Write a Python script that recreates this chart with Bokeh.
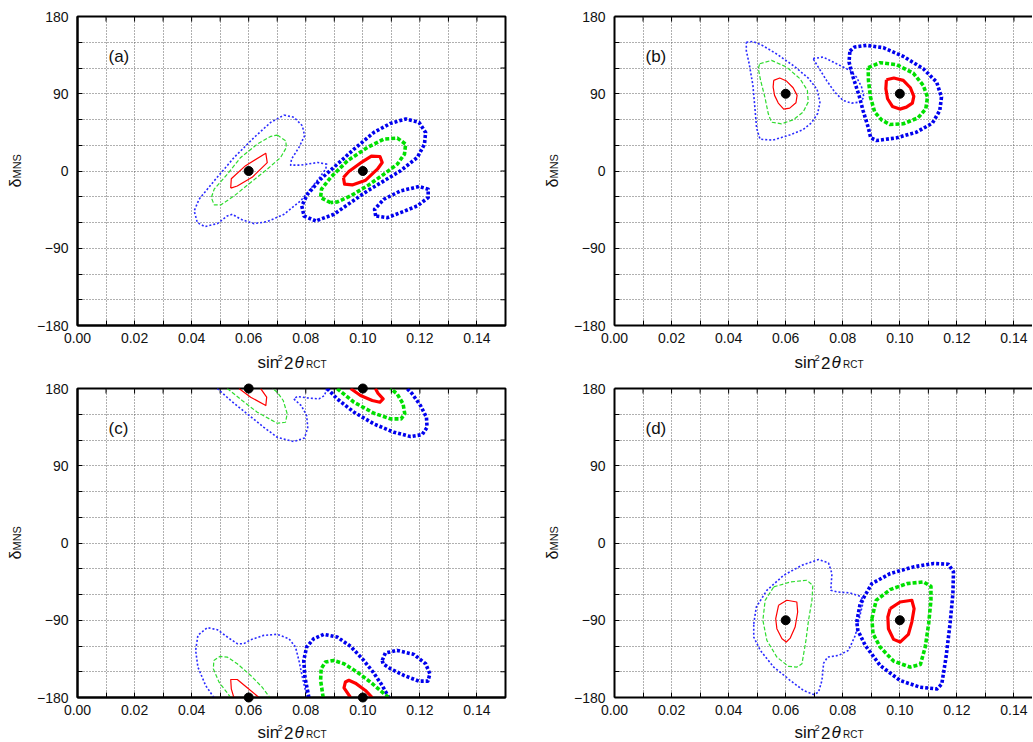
import math
from bokeh.plotting import figure
from bokeh.models import FixedTicker, Range1d, NumeralTickFormatter
from bokeh.core.properties import value
from bokeh.layouts import column, row
from bokeh.embed import file_html
from bokeh.resources import INLINE

# ---------------- axes / ticks ----------------
X_TICKS = [0.00, 0.02, 0.04, 0.06, 0.08, 0.10, 0.12, 0.14]
X_MINOR = [0.01, 0.03, 0.05, 0.07, 0.09, 0.11, 0.13]
X_GRID = [0.01, 0.02, 0.03, 0.04, 0.05, 0.06, 0.07, 0.08, 0.09, 0.10, 0.11, 0.12, 0.13, 0.14]
Y_TICKS = [-180, -90, 0, 90, 180]
Y_MINOR = [-150, -120, -60, -30, 30, 60, 120, 150]
Y_GRID = [-150, -120, -90, -60, -30, 0, 30, 60, 90, 120, 150]
PANEL_LABELS = ["(a)", "(b)", "(c)", "(d)"]

# true points (sin^2 2theta, delta)
TRUE_S2T = [0.06, 0.10]
A_TRUE_D = [0, 0]
B_TRUE_D = [90, 90]
C_TRUE_D = [180, 180, -180, -180]
D_TRUE_D = [-90, -90]

# ---------------- panel (a) contours ----------------
A_RED_06 = [[0.0537, -19.9], [0.0539, -9.0], [0.0589, 6.2], [0.0660, 20.6], [0.0665, 9.7],
            [0.0612, -7.4], [0.0560, -17.5]]
A_GREEN_06 = [[0.0700, 41.8], [0.0730, 35.2], [0.0732, 27.4], [0.0712, 15.8], [0.0665, 2.1],
              [0.0607, -13.4], [0.0549, -29.0], [0.0502, -39.5], [0.0479, -39.5], [0.0469, -30.9],
              [0.0479, -21.2], [0.0525, -3.7], [0.0572, 15.8], [0.0630, 31.3], [0.0677, 40.3]]
A_BLUE_06 = [[0.0724, 65.2], [0.0759, 62.5], [0.0788, 52.7], [0.0796, 41.1], [0.0776, 27.4],
             [0.0750, 13.8], [0.0747, 6.8], [0.0782, 6.8], [0.0841, 9.9], [0.0873, 8.0],
             [0.0870, 2.1], [0.0835, -13.4], [0.0782, -34.8], [0.0724, -50.4], [0.0665, -59.0],
             [0.0619, -61.3], [0.0572, -56.2], [0.0543, -50.4], [0.0525, -52.4], [0.0490, -61.3],
             [0.0446, -64.8], [0.0420, -60.1], [0.0409, -46.5], [0.0426, -32.9], [0.0479, -11.5],
             [0.0549, 15.8], [0.0619, 39.1], [0.0677, 56.6]]
A_RED_10 = [[0.0932, -7.6], [0.0936, -15.4], [0.0963, -16.2], [0.1010, -10.7], [0.1051, 2.1],
            [0.1068, 9.9], [0.1060, 16.9], [0.1030, 17.3], [0.0998, 10.7], [0.0951, -0.6]]
A_GREEN_10 = [[0.0887, -36.8], [0.0852, -30.9], [0.0855, -21.2], [0.0887, -7.6], [0.0946, 11.9],
              [0.1016, 27.4], [0.1074, 37.2], [0.1121, 38.3], [0.1150, 31.3], [0.1146, 19.7],
              [0.1121, 8.0], [0.1074, -3.7], [0.1016, -17.3], [0.0957, -29.0], [0.0911, -36.0]]
A_BLUE_10 = [[0.0835, -58.2], [0.0794, -52.4], [0.0786, -40.7], [0.0806, -27.1], [0.0852, -9.5],
             [0.0911, 8.0], [0.0969, 25.5], [0.1039, 45.0], [0.1097, 55.5], [0.1150, 60.6],
             [0.1197, 56.6], [0.1220, 44.9], [0.1216, 31.3], [0.1191, 15.8], [0.1132, 0.2],
             [0.1074, -11.5], [0.1016, -23.2], [0.0957, -36.8], [0.0899, -50.4]]
A_BLUE_10_ISLAND = [[0.1045, -52.4], [0.1041, -44.6], [0.1074, -32.9], [0.1132, -23.2],
                    [0.1197, -18.1], [0.1229, -21.2], [0.1229, -30.9], [0.1191, -40.7],
                    [0.1132, -48.5], [0.1086, -54.3]]

# ---------------- panel (b) contours ----------------
B_RED_06 = [[0.0558, 105.6], [0.0579, 108.3], [0.0603, 104.8], [0.0626, 97.0], [0.0640, 88.1],
            [0.0636, 79.5], [0.0614, 73.3], [0.0593, 72.1], [0.0574, 79.1], [0.0561, 88.1],
            [0.0556, 97.8]]
B_GREEN_06 = [[0.0509, 125.0], [0.0550, 128.9], [0.0603, 121.1], [0.0650, 107.5], [0.0676, 93.9],
              [0.0679, 80.3], [0.0661, 68.6], [0.0626, 59.6], [0.0585, 55.0], [0.0550, 56.9],
              [0.0539, 66.6], [0.0527, 86.1], [0.0512, 105.6], [0.0504, 119.2]]
B_BLUE_06 = [[0.0462, 150], [0.0485, 151], [0.0520, 146], [0.0570, 136], [0.0630, 122],
             [0.0680, 108], [0.0710, 95], [0.0720, 80], [0.0712, 67], [0.0690, 56], [0.0660, 48],
             [0.0614, 42], [0.0555, 36], [0.0510, 37], [0.0498, 50], [0.0493, 70], [0.0485, 100],
             [0.0472, 125], [0.0462, 140]]
B_BLUE_06_LOBE = [[0.0696, 130.9], [0.0731, 132.8], [0.0778, 125.0], [0.0825, 117.2],
                  [0.0848, 109.5], [0.0866, 97.8], [0.0874, 86.1], [0.0862, 80.3], [0.0831, 79.1],
                  [0.0801, 82.2], [0.0772, 91.9], [0.0743, 105.6], [0.0714, 121.1]]
B_RED_10 = [[0.0953, 106.3], [0.0979, 108.3], [0.1012, 105.6], [0.1037, 97.0], [0.1049, 86.9],
            [0.1044, 79.1], [0.1023, 74.4], [0.1000, 72.1], [0.0974, 75.2], [0.0957, 84.2],
            [0.0951, 95.8]]
B_GREEN_10 = [[0.0889, 120.4], [0.0930, 126.2], [0.0988, 123.9], [0.1047, 114.1], [0.1082, 99.7],
              [0.1097, 86.1], [0.1091, 72.5], [0.1064, 62.0], [0.1012, 55.0], [0.0965, 54.2],
              [0.0936, 59.6], [0.0912, 68.6], [0.0897, 86.1], [0.0890, 105.6]]
B_BLUE_10 = [[0.0825, 139.8], [0.0842, 144.5], [0.0883, 146.4], [0.0942, 143.7], [0.1012, 133.6],
             [0.1082, 119.2], [0.1129, 103.6], [0.1146, 86.1], [0.1140, 70.5], [0.1114, 55.7],
             [0.1058, 45.2], [0.0988, 38.6], [0.0918, 35.5], [0.0898, 38.6], [0.0889, 51.1],
             [0.0871, 70.5], [0.0857, 88.1], [0.0836, 109.5], [0.0822, 127.0]]

# ---------------- panel (c) contours (wrap at +-180) ----------------
C_RED_06_TOP = [[0.0566, 180], [0.0607, 169.9], [0.0660, 160.1], [0.0663, 169.9], [0.0645, 178.4],
                [0.0642, 180]]
C_RED_06_BOT = [[0.0548, -180], [0.0539, -169.9], [0.0537, -159.0], [0.0560, -159.0],
                [0.0595, -168.7], [0.0636, -180]]
C_GREEN_06_TOP = [[0.0525, 180], [0.0577, 166.0], [0.0630, 152.4], [0.0700, 139.5], [0.0729, 140.7],
                  [0.0735, 150.4], [0.0721, 166.0], [0.0700, 175.7], [0.0683, 180]]
C_GREEN_06_BOT = [[0.0537, -180], [0.0496, -162.1], [0.0476, -146.5], [0.0478, -136.8],
                  [0.0499, -132.1], [0.0525, -132.9], [0.0560, -140.7], [0.0607, -154.3],
                  [0.0647, -167.9], [0.0674, -180]]
C_BLUE_06_TOP = [[0.0490, 180], [0.0537, 166.0], [0.0595, 150.4], [0.0653, 134.8], [0.0700, 123.2],
                 [0.0758, 118.1], [0.0796, 122.4], [0.0807, 134.8], [0.0803, 148.5], [0.0784, 160.1],
                 [0.0758, 167.9], [0.0770, 170.7], [0.0805, 169.1], [0.0846, 167.9], [0.0866, 171.8],
                 [0.0873, 180]]
C_BLUE_06_BOT = [[0.0478, -180], [0.0449, -166.0], [0.0422, -144.6], [0.0414, -125.1],
                 [0.0422, -107.6], [0.0455, -98.6], [0.0490, -101.0], [0.0525, -109.5],
                 [0.0560, -117.3], [0.0583, -117.3], [0.0607, -112.7], [0.0653, -107.6],
                 [0.0700, -106.4], [0.0741, -111.5], [0.0764, -121.2], [0.0776, -136.8],
                 [0.0788, -156.3], [0.0799, -171.8], [0.0805, -180]]
C_RED_10_TOP = [[0.0957, 180], [0.0992, 171.8], [0.1033, 166.0], [0.1060, 164.0], [0.1071, 167.9],
                [0.1053, 174.5], [0.1044, 180]]
C_RED_10_BOT = [[0.0957, -180], [0.0934, -168.7], [0.0939, -161.9], [0.0951, -159.9],
                [0.0974, -163.3], [0.1009, -171.8], [0.1033, -180]]
C_GREEN_10_TOP = [[0.0910, 180], [0.0969, 164.0], [0.1039, 151.2], [0.1097, 144.6], [0.1134, 144.6],
                  [0.1147, 150.4], [0.1141, 162.1], [0.1120, 173.8], [0.1097, 180]]
C_GREEN_10_BOT = [[0.0861, -180], [0.0852, -160.1], [0.0854, -146.5], [0.0869, -138.7],
                  [0.0898, -136.8], [0.0934, -140.7], [0.0980, -150.4], [0.1027, -162.1],
                  [0.1068, -173.8], [0.1091, -180]]
C_BLUE_10_TOP = [[0.0875, 180], [0.0910, 167.9], [0.0969, 152.4], [0.1039, 138.7], [0.1109, 129.0],
                 [0.1167, 124.0], [0.1208, 126.3], [0.1225, 134.8], [0.1223, 146.5], [0.1202, 160.1],
                 [0.1173, 173.8], [0.1155, 180]]
C_BLUE_10_BOT = [[0.0811, -180], [0.0797, -156.3], [0.0793, -136.8], [0.0803, -121.2],
                 [0.0828, -111.5], [0.0863, -106.4], [0.0910, -109.5], [0.0957, -120.4],
                 [0.0998, -134.8], [0.1036, -150.4], [0.1068, -166.0], [0.1091, -180]]
C_BLUE_10_ISLAND = [[0.1068, -136.8], [0.1079, -128.2], [0.1120, -125.1], [0.1179, -129.8],
                    [0.1220, -140.7], [0.1235, -152.4], [0.1228, -160.9], [0.1196, -160.9],
                    [0.1144, -154.3], [0.1097, -146.5], [0.1071, -140.7]]

# ---------------- panel (d) contours ----------------
D_RED_06 = [[0.0575, -72.6], [0.0604, -66.7], [0.0639, -68.7], [0.0642, -80.4], [0.0633, -97.9],
            [0.0616, -110.8], [0.0602, -115.4], [0.0587, -111.5], [0.0569, -99.8], [0.0565, -88.2]]
D_GREEN_06 = [[0.0558, -51.2], [0.0616, -45.4], [0.0674, -43.4], [0.0695, -49.3], [0.0692, -66.8],
              [0.0680, -90.0], [0.0671, -113.4], [0.0657, -140.7], [0.0639, -144.6], [0.0610, -143.8],
              [0.0569, -132.9], [0.0534, -113.4], [0.0520, -90.0], [0.0528, -66.8]]
D_BLUE_06 = [[0.0488, -94.1], [0.0497, -74.6], [0.0534, -55.1], [0.0593, -37.6], [0.0657, -25.9],
             [0.0715, -19.3], [0.0750, -23.2], [0.0762, -35.6], [0.0758, -55.1], [0.0779, -57.0],
             [0.0826, -58.2], [0.0861, -62.1], [0.0873, -66.8], [0.0859, -86.2], [0.0844, -107.6],
             [0.0820, -125.1], [0.0785, -131.0], [0.0747, -132.9], [0.0733, -139.9], [0.0727, -160.2],
             [0.0715, -173.8], [0.0698, -176.5], [0.0663, -171.9], [0.0616, -160.2], [0.0558, -144.6],
             [0.0511, -125.1], [0.0488, -109.6]]
D_RED_10 = [[0.0966, -76.5], [0.1001, -68.7], [0.1042, -66.7], [0.1050, -76.5], [0.1042, -92.1],
            [0.1030, -106.5], [0.1001, -115.4], [0.0978, -112.3], [0.0960, -99.9], [0.0958, -86.2]]
D_GREEN_10 = [[0.0902, -88.2], [0.0917, -66.8], [0.0966, -54.3], [0.1025, -47.3], [0.1083, -45.4],
              [0.1109, -50.4], [0.1109, -66.8], [0.1101, -94.1], [0.1089, -121.3], [0.1072, -141.6],
              [0.1036, -144.6], [0.0978, -137.6], [0.0931, -121.3], [0.0906, -105.7]]
D_BLUE_10 = [[0.0849, -92.1], [0.0861, -70.7], [0.0902, -47.3], [0.0966, -35.6], [0.1048, -27.8],
             [0.1118, -23.9], [0.1170, -24.7], [0.1188, -33.6], [0.1186, -59.0], [0.1176, -94.1],
             [0.1162, -133.0], [0.1147, -164.2], [0.1130, -170.0], [0.1071, -168.0], [0.1001, -160.2],
             [0.0931, -142.7], [0.0879, -119.4], [0.0853, -101.9]]

# ---------------- styles ----------------
STYLES = {
    "blue06": dict(line_color="#2a2aff", line_width=1.6, line_dash="2 2"),
    "green06": dict(line_color="#2fdc2f", line_width=1.2, line_dash="4 2"),
    "red06": dict(line_color="#ff0000", line_width=1.2),
    "blue10": dict(line_color="#0000ee", line_width=3.6, line_dash="3 2"),
    "green10": dict(line_color="#00e000", line_width=3.6, line_dash="4 2"),
    "red10": dict(line_color="#ff0000", line_width=3.2),
}
ORDER = ["blue06", "blue10", "green06", "green10", "red06", "red10"]

PANELS = [
    dict(label=PANEL_LABELS[0], true_d=A_TRUE_D, closed={
        "blue06": [A_BLUE_06], "green06": [A_GREEN_06], "red06": [A_RED_06],
        "blue10": [A_BLUE_10, A_BLUE_10_ISLAND], "green10": [A_GREEN_10], "red10": [A_RED_10]},
         open={}),
    dict(label=PANEL_LABELS[1], true_d=B_TRUE_D, closed={
        "blue06": [B_BLUE_06, B_BLUE_06_LOBE], "green06": [B_GREEN_06], "red06": [B_RED_06],
        "blue10": [B_BLUE_10], "green10": [B_GREEN_10], "red10": [B_RED_10]}, open={}),
    dict(label=PANEL_LABELS[2], true_d=C_TRUE_D, closed={"blue10": [C_BLUE_10_ISLAND]}, open={
        "blue06": [C_BLUE_06_TOP, C_BLUE_06_BOT], "green06": [C_GREEN_06_TOP, C_GREEN_06_BOT],
        "red06": [C_RED_06_TOP, C_RED_06_BOT], "blue10": [C_BLUE_10_TOP, C_BLUE_10_BOT],
        "green10": [C_GREEN_10_TOP, C_GREEN_10_BOT], "red10": [C_RED_10_TOP, C_RED_10_BOT]}),
    dict(label=PANEL_LABELS[3], true_d=D_TRUE_D, closed={
        "blue06": [D_BLUE_06], "green06": [D_GREEN_06], "red06": [D_RED_06],
        "blue10": [D_BLUE_10], "green10": [D_GREEN_10], "red10": [D_RED_10]}, open={}),
]

FONT = "Liberation Sans"
FH = 309
TICK_PX = 5
TEXT_SHIFT = 5  # empirical baseline correction of the svg text renderer


def add_text(p, x, y, txt, size, style="normal", angle=0.0):
    r = p.text(x=[x], y=[y], text=[txt], text_font=value(FONT), text_font_size=value(size),
               text_font_style=value(style), text_color="#111111", text_align=value("left"),
               text_baseline=value("alphabetic"), angle=angle)
    r.level = "overlay"
    return r


def make_panel(idx, panel):
    left_col = idx % 2 == 0
    top_row = idx < 2
    fw = 428 if left_col else 418
    xmax = 0.15 * fw / 428.0
    p = figure(frame_width=fw, frame_height=FH,
               x_range=Range1d(0, xmax), y_range=Range1d(-180, 180),
               output_backend="svg", toolbar_location=None,
               min_border_left=77 if left_col else 69,
               min_border_right=40 if left_col else 0,
               min_border_top=16 if top_row else 8,
               min_border_bottom=55 if top_row else 44,
               outline_line_color="black" if left_col else None, outline_line_width=2,
               background_fill_color="white", border_fill_color="white")

    def dx(px):
        return px * xmax / fw

    def dy(px):  # px measured downward from frame top
        return 180 - px * 360.0 / FH

    p.xaxis.ticker = FixedTicker(ticks=X_TICKS, minor_ticks=X_MINOR)
    p.yaxis.ticker = FixedTicker(ticks=Y_TICKS, minor_ticks=Y_MINOR)
    p.xaxis.formatter = NumeralTickFormatter(format="0.00")
    for ax in list(p.xaxis) + list(p.yaxis):
        ax.major_label_text_font = FONT
        ax.major_label_text_font_size = "14px"
        ax.major_label_text_color = "#111111"
        ax.major_tick_in = TICK_PX
        ax.major_tick_out = 0
        ax.minor_tick_in = TICK_PX
        ax.minor_tick_out = 0
        ax.axis_line_width = 2
        ax.axis_line_color = "black"
        ax.major_tick_line_color = "black"
        ax.minor_tick_line_color = "black"
    p.xaxis.major_label_standoff = 7
    p.yaxis.major_label_standoff = 9

    # grid
    p.xgrid.ticker = FixedTicker(ticks=X_GRID)
    p.ygrid.ticker = FixedTicker(ticks=Y_GRID)
    for g in (p.xgrid, p.ygrid):
        g.grid_line_color = "#606060"
        g.grid_line_dash = "1 2"
        g.grid_line_width = 1

    # mirrored ticks on top (and right for the left column), border on top for right column
    xt = [t for t in X_TICKS + X_MINOR if 0 < t < xmax]
    p.segment(x0=xt, y0=[180] * len(xt), x1=xt, y1=[dy(TICK_PX)] * len(xt),
              line_color="black", line_width=1)
    if left_col:
        yt = [t for t in Y_TICKS + Y_MINOR if -180 < t < 180]
        p.segment(x0=[xmax] * len(yt), y0=yt, x1=[xmax - dx(TICK_PX)] * len(yt), y1=yt,
                  line_color="black", line_width=1)
    else:
        top = p.segment(x0=[0], y0=[180], x1=[xmax], y1=[180], line_color="black", line_width=2)
        top.level = "overlay"

    # contours
    for key in ORDER:
        xs, ys = [], []
        for poly in panel["closed"].get(key, []):
            pts = poly + [poly[0]]
            xs.append([q[0] for q in pts])
            ys.append([q[1] for q in pts])
        for poly in panel["open"].get(key, []):
            xs.append([q[0] for q in poly])
            ys.append([q[1] for q in poly])
        if xs:
            p.multi_line(xs, ys, line_join="round", **STYLES[key])

    # true points
    n = len(panel["true_d"])
    px_true = [TRUE_S2T[i % 2] for i in range(n)]
    r = p.scatter(px_true, panel["true_d"], size=9, color="black")
    r.level = "overlay"

    # panel label
    add_text(p, dx(31), dy(44.7 - TEXT_SHIFT), panel["label"], "17px")

    # x-axis label: sin^2 2theta_RCT
    base = (42 if top_row else 40) - TEXT_SHIFT
    xc = 0.075
    parts = [("sin", -34, 0, "17px", "normal"),
             ("2", -14, -4.3, "9.5px", "normal"),
             ("2", -7.5, 0, "17px", "normal"),
             ("\u03b8", 3.0, 0, "17px", "italic"),
             ("RCT", 14.5, 1.5, "10px", "normal")]
    for txt, off, yo, fs, st in parts:
        add_text(p, xc + dx(off), dy(FH + base + yo), txt, fs, st)

    # y-axis label: delta_MNS (rotated)
    add_text(p, dx(-57 - TEXT_SHIFT), dy(FH / 2 + 16.5), "\u03b4", "16px", angle=math.pi / 2)
    add_text(p, dx(-56 - TEXT_SHIFT), dy(FH / 2 + 7.5), "MNS", "11px", angle=math.pi / 2)
    return p


figs = [make_panel(i, pn) for i, pn in enumerate(PANELS)]
layout = column(row(figs[0], figs[1]), row(figs[2], figs[3]))

open("out.html", "w").write(file_html(layout, INLINE, title="contours"))
